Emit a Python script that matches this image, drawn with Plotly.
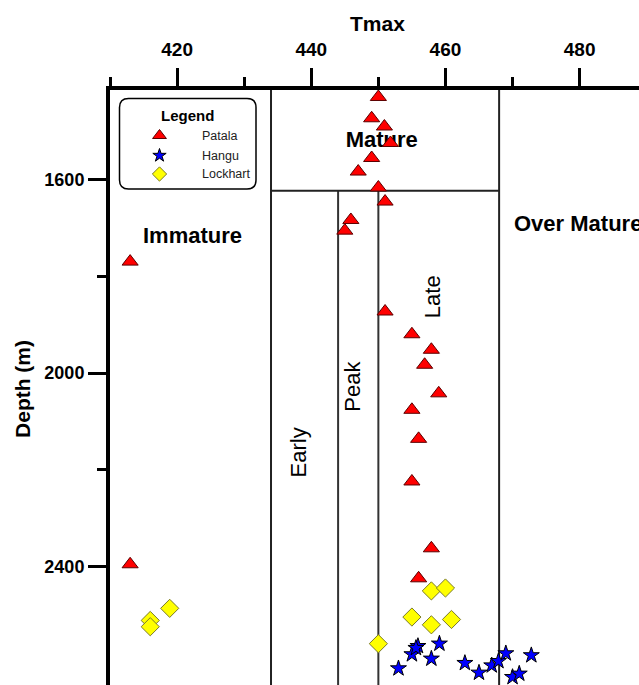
import plotly.graph_objects as go

# ---------------- data ----------------
patala_tmax = [450.0, 449.0, 450.9, 451.8, 449.0, 447.0, 450.0, 451.0, 445.9, 445.0,
               451.0, 455.0, 457.9, 456.9, 459.0, 455.0, 456.0, 455.0, 457.9, 456.0,
               413.0, 413.0]
patala_depth = [1430, 1474, 1491, 1525, 1556, 1584, 1617, 1646, 1684, 1706,
                1873, 1920, 1952, 1983, 2042, 2076, 2136, 2224, 2362, 2424,
                1770, 2395]

hangu_tmax = [453.0, 455.0, 455.9, 455.6, 457.9, 459.1, 462.9, 465.0, 466.9, 467.9,
              469.0, 470.0, 471.0, 472.8]
hangu_depth = [2610, 2581, 2564, 2568, 2590, 2559, 2599, 2619, 2604, 2595,
               2579, 2628, 2621, 2583]

lockhart_tmax = [418.9, 416.0, 416.0, 450.0, 457.9, 460.0, 455.0, 457.9, 460.9]
lockhart_depth = [2486, 2511, 2524, 2559, 2450, 2444, 2504, 2520, 2509]

x_ticks = [420, 440, 460, 480]
x_minor = [410, 430, 450, 470]
y_ticks = [1600, 2000, 2400]
y_minor = [1800, 2200]

# maturity zone boundaries (Tmax) and mature-zone base depth
zone_lines_full = [434, 468]
zone_lines_low = [444, 450]
mature_base = 1623.5

X_RANGE = [410, 488.85]
Y_RANGE = [2644.3, 1415.6]

FONT = "Liberation Sans, Arial, sans-serif"

fig = go.Figure()

# region label drawn below markers
fig.add_trace(go.Scatter(x=[450.5], y=[1521], mode="text", text=["Mature"],
                         textfont=dict(family=FONT, size=22, color="black", weight="bold"),
                         showlegend=False, hoverinfo="skip"))

fig.add_trace(go.Scatter(x=patala_tmax, y=patala_depth, mode="markers", name="Patala",
                         marker=dict(symbol="triangle-up", size=14, color="#ff0000",
                                     line=dict(color="#5a0000", width=1)),
                         showlegend=False))
fig.add_trace(go.Scatter(x=lockhart_tmax, y=lockhart_depth, mode="markers", name="Lockhart",
                         marker=dict(symbol="diamond", size=14, color="#ffff00",
                                     line=dict(color="#7a7a2a", width=1)),
                         showlegend=False))
fig.add_trace(go.Scatter(x=hangu_tmax, y=hangu_depth, mode="markers", name="Hangu",
                         marker=dict(symbol="star", size=12, color="#0000ff",
                                     line=dict(color="black", width=1)),
                         showlegend=False))

# manual legend (pixel overlay axes)
leg_x0, leg_x1, leg_y0, leg_y1, rr = 119.5, 256, 98.5, 189, 9
legend_items = [("Patala", "triangle-up", 12, "#ff0000", "#5a0000", 135.5),
                ("Hangu", "star", 10, "#0000ff", "black", 155.5),
                ("Lockhart", "diamond", 11, "#ffff00", "#7a7a2a", 174)]
for name, sym, sz, col, lc, yy in legend_items:
    fig.add_trace(go.Scatter(x=[159.5], y=[yy], mode="markers", xaxis="x2", yaxis="y2",
                             marker=dict(symbol=sym, size=sz, color=col, line=dict(color=lc, width=1)),
                             showlegend=False, hoverinfo="skip"))
    fig.add_annotation(x=200, y=yy, xref="x2", yref="y2", text=name, showarrow=False,
                       xanchor="left", yanchor="middle",
                       font=dict(family=FONT, size=12.5, color="#222"))
fig.add_annotation(x=187.5, y=115, xref="x2", yref="y2", text="Legend", showarrow=False,
                   font=dict(family=FONT, size=15, color="black", weight="bold"))

path = (f"M {leg_x0+rr},{leg_y0} L {leg_x1-rr},{leg_y0} Q {leg_x1},{leg_y0} {leg_x1},{leg_y0+rr} "
        f"L {leg_x1},{leg_y1-rr} Q {leg_x1},{leg_y1} {leg_x1-rr},{leg_y1} "
        f"L {leg_x0+rr},{leg_y1} Q {leg_x0},{leg_y1} {leg_x0},{leg_y1-rr} "
        f"L {leg_x0},{leg_y0+rr} Q {leg_x0},{leg_y0} {leg_x0+rr},{leg_y0} Z")
fig.add_shape(type="path", path=path, xref="x2", yref="y2",
              line=dict(color="black", width=1.5), fillcolor="white", layer="below")

# zone lines
for xv in zone_lines_full:
    fig.add_shape(type="line", x0=xv, x1=xv, y0=Y_RANGE[1], y1=Y_RANGE[0],
                  line=dict(color="#222", width=2), layer="below")
for xv in zone_lines_low:
    fig.add_shape(type="line", x0=xv, x1=xv, y0=mature_base, y1=Y_RANGE[0],
                  line=dict(color="#333", width=2), layer="below")
fig.add_shape(type="line", x0=zone_lines_full[0], x1=zone_lines_full[1], y0=mature_base, y1=mature_base,
              line=dict(color="#222", width=2), layer="below")

# zone labels
big = dict(family=FONT, size=22, color="black", weight="bold")
rot = dict(family=FONT, size=22, color="black")
fig.add_annotation(x=422.3, y=1717, text="Immature", showarrow=False, font=big)
fig.add_annotation(x=469.9, y=1692, text="Over Mature", showarrow=False, font=big, xanchor="left")
fig.add_annotation(x=438.1, y=2165, text="Early", showarrow=False, font=rot, textangle=-90)
fig.add_annotation(x=446.1, y=2028, text="Peak", showarrow=False, font=rot, textangle=-90)
fig.add_annotation(x=458.1, y=1842, text="Late", showarrow=False, font=rot, textangle=-90)

# axis titles (paper coordinates relative to the plot area)
fig.add_annotation(x=0.5066, y=1.1118, xref="paper", yref="paper", text="Tmax", showarrow=False,
                   xanchor="center", yanchor="middle",
                   font=dict(family=FONT, size=21, color="black", weight="bold"))
fig.add_annotation(x=-0.1645, y=0.4975, xref="paper", yref="paper", text="Depth (m)", showarrow=False,
                   xanchor="center", yanchor="middle",
                   textangle=-90, font=dict(family=FONT, size=21, color="black", weight="bold"))

tickfont = dict(family=FONT, size=19, color="black", weight="bold")
fig.update_layout(
    width=639, height=685,
    margin=dict(l=110, r=0, t=90, b=0),
    paper_bgcolor="white", plot_bgcolor="white",
    showlegend=False,
    xaxis=dict(side="top", range=X_RANGE, showline=True, linecolor="black", linewidth=4,
               ticks="outside", ticklen=18, tickwidth=3, tickcolor="black",
               tickmode="array", tickvals=x_ticks, ticktext=[str(v) for v in x_ticks],
               tickfont=tickfont, ticklabelstandoff=4, showgrid=False, zeroline=False,
               minor=dict(tickmode="array", tickvals=x_minor, ticks="outside", ticklen=9,
                          tickwidth=3, tickcolor="black", showgrid=False)),
    yaxis=dict(range=Y_RANGE, showline=True, linecolor="black", linewidth=4,
               ticks="outside", ticklen=18, tickwidth=3, tickcolor="black",
               tickmode="array", tickvals=y_ticks, ticktext=[str(v) for v in y_ticks],
               tickfont=dict(family=FONT, size=18, color="black", weight="bold"),
               showgrid=False, zeroline=False,
               minor=dict(tickmode="array", tickvals=y_minor, ticks="outside", ticklen=9,
                          tickwidth=3, tickcolor="black", showgrid=False)),
    xaxis2=dict(overlaying="x", anchor="y2", range=[110, 639], visible=False, fixedrange=True),
    yaxis2=dict(overlaying="y", anchor="x2", range=[685, 90], visible=False, fixedrange=True),
)

fig.write_html("out.html")
